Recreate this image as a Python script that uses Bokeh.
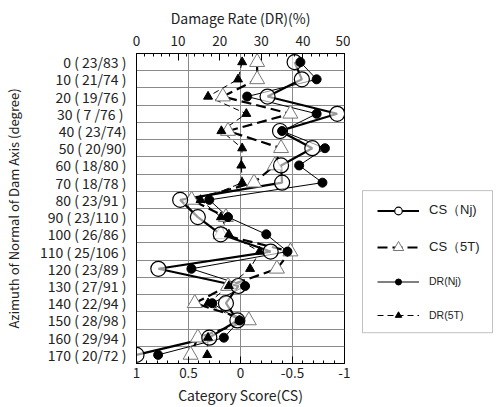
from bokeh.plotting import figure
from bokeh.layouts import row
from bokeh.models import (Range1d, LinearAxis, FixedTicker, Legend, LegendItem,
                          CustomJSTickFormatter, BoxAnnotation)
from bokeh.embed import file_html
from bokeh.resources import INLINE

# ---- data ----
row_labels = ["0 ( 23/83 )", "10 ( 21/74 )", "20 ( 19/76 )", "30 (  7 /76 )",
              "40 ( 23/74)", "50 ( 20/90)", "60 ( 18/80 )", "70 ( 18/78 )",
              "80 ( 23/91 )", "90 ( 23/110 )", "100 ( 26/86 )", "110 ( 25/106 )",
              "120 ( 23/89 )", "130 ( 27/91 )", "140 ( 22/94 )", "150 ( 28/98 )",
              "160 ( 29/94 )", "170 ( 20/72 )"]
rows = list(range(len(row_labels)))

cs_nj = [-0.52, -0.59, -0.26, -0.93, -0.38, -0.69, -0.39, -0.40, 0.58,
         0.41, 0.19, -0.29, 0.79, 0.02, 0.14, 0.03, 0.30, 1.00]
cs_5t = [-0.16, -0.16, 0.17, -0.48, 0.12, -0.39, -0.33, -0.13, 0.47,
         0.14, 0.19, -0.48, -0.35, 0.12, 0.44, -0.08, 0.41, 0.48]
dr_nj = [39.4, 43.3, 26.6, 43.3, 35.0, 45.3, 39.1, 44.7, 17.5,
         22.0, 31.2, 36.3, 13.2, 26.1, 18.2, 24.8, 21.0, 5.2]
dr_5t = [25.4, 24.4, 17.2, 26.4, 20.4, 25.4, 25.2, 25.4, 15.4,
         20.3, 22.2, 29.6, 27.3, 22.2, 17.2, 24.7, 17.2, 17.0]

series_labels = ["CS（Nj)", "CS（5T)", "DR(Nj)", "DR(5T)"]
cs_ticks = [1, 0.5, 0, -0.5, -1]
dr_ticks = [0, 10, 20, 30, 40, 50]

FONT = "Noto Sans CJK JP"
TXT = "#222222"

# styles
ST_CSN_LINE = dict(line_color="black", line_width=2.2)
ST_CS5_LINE = dict(line_color="black", line_width=2.2, line_dash="10 5")
ST_DRN_LINE = dict(line_color="black", line_width=1)
ST_DR5_LINE = dict(line_color="black", line_width=1, line_dash="6 4")
ST_CSN_MK = dict(marker="circle", fill_color="white", line_color="black", line_width=1.2)
ST_CS5_MK = dict(marker="triangle", fill_color="white", line_color="#777777", line_width=1)
ST_DRN_MK = dict(marker="circle", fill_color="black", line_color="black")
ST_DR5_MK = dict(marker="triangle", fill_color="black", line_color="black")

TOP, BOTTOM, H = 53, 42, 407

p = figure(width=350, height=H, output_backend="svg", toolbar_location=None,
           x_range=Range1d(1, -1), y_range=Range1d(len(rows) - 0.5, -0.5),
           min_border_left=135, min_border_right=6, min_border_top=TOP,
           min_border_bottom=BOTTOM, x_axis_location=None, y_axis_location=None)
p.extra_x_ranges = {"dr": Range1d(0, 50)}
p.outline_line_color = "black"
p.outline_line_width = 1
p.background_fill_color = "white"
p.border_fill_color = "white"

# bottom axis (Category Score)
xb = LinearAxis(ticker=FixedTicker(ticks=cs_ticks,
                                   minor_ticks=[round(1 - 0.1 * i, 1) for i in range(21)]),
                formatter=CustomJSTickFormatter(code="return String(tick)"),
                axis_label="Category Score(CS)")
# top axis (Damage Rate)
xt = LinearAxis(x_range_name="dr",
                ticker=FixedTicker(ticks=dr_ticks, minor_ticks=list(range(0, 51, 2))),
                axis_label="Damage Rate (DR)(%)")
for ax in (xb, xt):
    ax.major_tick_in = 7
    ax.major_tick_out = 0
    ax.minor_tick_in = 3
    ax.minor_tick_out = 0
    ax.axis_line_color = "black"
    ax.major_tick_line_color = "black"
    ax.minor_tick_line_color = "black"
    ax.major_label_text_font = FONT
    ax.major_label_text_font_size = "13.5px"
    ax.major_label_text_color = TXT
    ax.axis_label_text_font = FONT
    ax.axis_label_text_font_size = "14px"
    ax.axis_label_text_font_style = "normal"
    ax.axis_label_text_color = TXT
xb.major_label_standoff = 4
xb.axis_label_standoff = 4
xt.major_label_standoff = 8
xt.axis_label_standoff = 5
p.add_layout(xb, "below")
p.add_layout(xt, "above")

# left axis (azimuth)
yl = LinearAxis(ticker=FixedTicker(ticks=rows),
                axis_label="Azimuth of Normal of Dam Axis (degree)")
yl.major_label_overrides = {i: lab for i, lab in zip(rows, row_labels)}
yl.major_tick_in = 0
yl.major_tick_out = 0
yl.minor_tick_line_color = None
yl.axis_line_color = "black"
yl.major_label_standoff = 10
yl.major_label_text_font = FONT
yl.major_label_text_font_size = "14px"
yl.major_label_text_color = TXT
yl.axis_label_text_font = FONT
yl.axis_label_text_font_size = "13px"
yl.axis_label_text_font_style = "normal"
yl.axis_label_text_color = TXT
yl.axis_label_standoff = 14
p.add_layout(yl, "left")

# grids
p.xgrid.ticker = FixedTicker(ticks=[0.5, 0, -0.5])
p.ygrid.ticker = FixedTicker(ticks=[i + 0.5 for i in rows[:-1]])
for g in (p.xgrid, p.ygrid):
    g.grid_line_color = "#8a8a8a"
    g.grid_line_width = 1
    g.grid_line_alpha = 1

# lines
p.line(cs_5t, rows, **ST_CS5_LINE)
p.line(cs_nj, rows, **ST_CSN_LINE)
p.line(dr_nj, rows, x_range_name="dr", **ST_DRN_LINE)
p.line(dr_5t, rows, x_range_name="dr", **ST_DR5_LINE)

# markers
p.scatter(cs_5t, rows, size=15, **ST_CS5_MK)
p.scatter(cs_nj, rows, size=15, fill_alpha=0.6, **ST_CSN_MK)
p.scatter(dr_nj, rows, x_range_name="dr", size=9, **ST_DRN_MK)
p.scatter(dr_5t, rows, x_range_name="dr", size=9, **ST_DR5_MK)

# ---- legend panel (separate figure; its frame spans the same height) ----
LW = 148
FH = H - TOP - BOTTOM
lf = figure(width=LW, height=H, output_backend="svg", toolbar_location=None,
            x_range=Range1d(0, LW), y_range=Range1d(0, FH),
            min_border_left=0, min_border_right=0, min_border_top=TOP,
            min_border_bottom=BOTTOM, x_axis_location=None, y_axis_location=None)
lf.grid.visible = False
lf.outline_line_color = None
lf.background_fill_color = "white"
lf.border_fill_color = "white"

# legend box (layout decoration in panel pixels)
lf.add_layout(BoxAnnotation(left=12, right=142, bottom=H - BOTTOM - 334,
                            top=H - BOTTOM - 191, fill_alpha=0,
                            line_color="#333333", line_width=1))

# hidden sample renderers (legend swatches only)
def sample(line_style, mk_style):
    r1 = lf.line([0, 0], [0, 0], visible=False, **line_style)
    r2 = lf.scatter([0], [0], visible=False, **mk_style)
    return [r1, r2]

samples = [sample(ST_CSN_LINE, ST_CSN_MK), sample(ST_CS5_LINE, ST_CS5_MK),
           sample(ST_DRN_LINE, ST_DRN_MK), sample(ST_DR5_LINE, ST_DR5_MK)]
item_centers = [212, 249, 283, 317]      # screen y of each legend row
glyph_h = [19, 26, 15, 16]               # controls swatch marker size
font_sz = ["13px", "13px", "10.5px", "10.5px"]

for lab, rs, cy, gh, fs in zip(series_labels, samples, item_centers, glyph_h, font_sz):
    lg = Legend(items=[LegendItem(label=lab, renderers=rs)],
                location=(27, H - BOTTOM - (cy + gh / 2)))
    lg.border_line_color = None
    lg.background_fill_alpha = 0
    lg.inactive_fill_alpha = 0
    lg.click_policy = "none"
    lg.label_text_font = "Liberation Sans"
    lg.label_text_font_size = fs
    lg.label_text_color = TXT
    lg.glyph_width = 42
    lg.glyph_height = gh
    lg.label_height = gh
    lg.padding = 0
    lg.margin = 0
    lg.label_standoff = 10
    lf.add_layout(lg, "center")

layout = row(p, lf)
open("out.html", "w").write(file_html(layout, INLINE))
